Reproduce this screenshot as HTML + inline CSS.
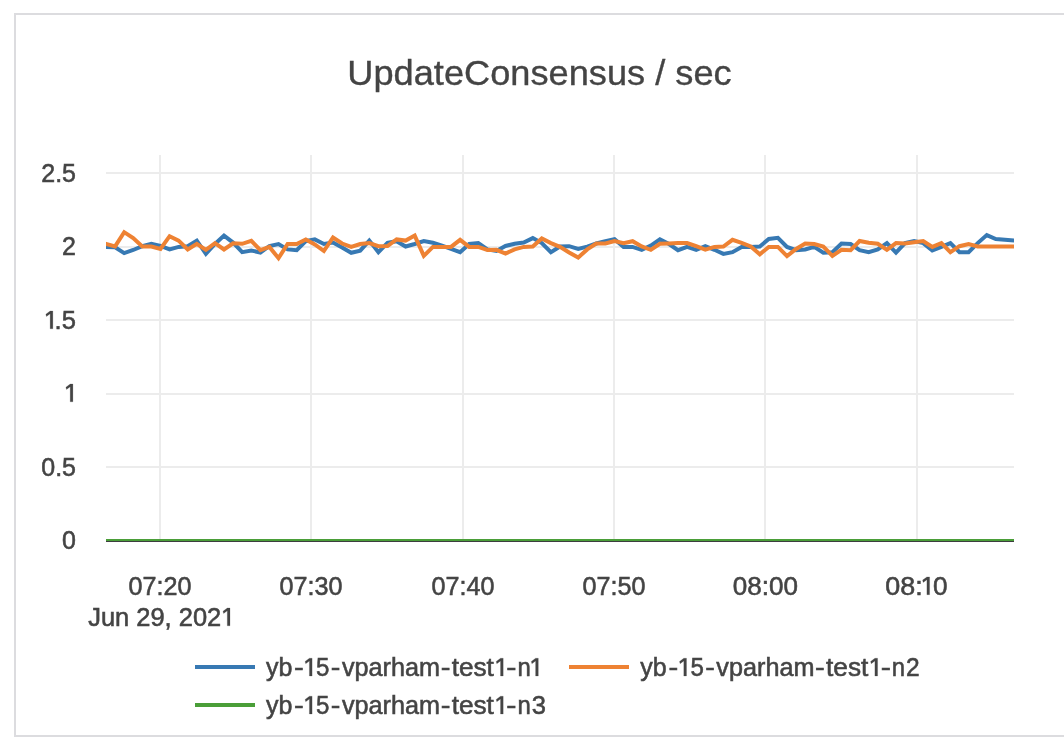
<!DOCTYPE html>
<html>
<head>
<meta charset="utf-8">
<title>UpdateConsensus / sec</title>
<style>
  html, body { margin: 0; padding: 0; background: #ffffff; }
  body { width: 1064px; height: 744px; overflow: hidden; position: relative;
         font-family: "Liberation Sans", sans-serif; }
  svg { position: absolute; left: 0; top: 0; display: block; will-change: transform; }
  text { font-family: "Liberation Sans", sans-serif; fill: #444444; }
  .tick { font-size: 25px; stroke: #444444; stroke-width: 0.55px; }
  .g1 { fill: #444444; stroke: #444444; stroke-width: 0.2px; }
  .title { font-size: 35px; stroke: #444444; stroke-width: 0.35px; }
  .grid line { stroke: #ececec; stroke-width: 2; shape-rendering: crispEdges; }
</style>
</head>
<body>
<svg width="1064" height="744" viewBox="0 0 1064 744">
  <!-- outer frame (right edge runs off-canvas) -->
  <rect x="15" y="14" width="1070" height="722" fill="#ffffff" stroke="#dcdcdf" stroke-width="2" shape-rendering="crispEdges"/>

  <!-- title -->
  <text class="title" x="347.3" y="84.8" textLength="384.4" lengthAdjust="spacingAndGlyphs">UpdateConsensus / sec</text>

  <!-- gridlines -->
  <g class="grid">
    <line x1="160" y1="155" x2="160" y2="541"/>
    <line x1="311" y1="155" x2="311" y2="541"/>
    <line x1="463" y1="155" x2="463" y2="541"/>
    <line x1="614" y1="155" x2="614" y2="541"/>
    <line x1="765" y1="155" x2="765" y2="541"/>
    <line x1="917" y1="155" x2="917" y2="541"/>
    <line x1="106" y1="173" x2="1014" y2="173"/>
    <line x1="106" y1="247" x2="1014" y2="247"/>
    <line x1="106" y1="320" x2="1014" y2="320"/>
    <line x1="106" y1="394" x2="1014" y2="394"/>
    <line x1="106" y1="467" x2="1014" y2="467"/>
  </g>
  <!-- zero line -->
  <rect x="106" y="540" width="908" height="2" fill="#3d3d3f" shape-rendering="crispEdges"/>

  <!-- y tick labels -->
  <g class="tick" text-anchor="end">
    <text x="76" y="181.8">2.5</text>
    <text x="76" y="255.4">2</text>
    <text x="76" y="475.8">0.5</text>
    <text x="76" y="548.8">0</text>
  </g>
  <g class="tick">
    <path class="g1" transform="translate(45.85,328.80)" d="M4.3,-17.8H7V0H4.3V-15L0.6,-12.3L0,-14.6Z"/><text x="54.57" y="328.8" textLength="21.31" lengthAdjust="spacingAndGlyphs">.5</text>
    <path class="g1" transform="translate(65.90,401.80)" d="M4.3,-17.8H7V0H4.3V-15L0.6,-12.3L0,-14.6Z"/>
  </g>

  <!-- x tick labels -->
  <g class="tick" text-anchor="middle">
    <text x="160" y="594.8" textLength="62.9" lengthAdjust="spacingAndGlyphs">07:20</text>
    <text x="311" y="594.8" textLength="62.9" lengthAdjust="spacingAndGlyphs">07:30</text>
    <text x="463" y="594.8" textLength="62.9" lengthAdjust="spacingAndGlyphs">07:40</text>
    <text x="614" y="594.8" textLength="62.9" lengthAdjust="spacingAndGlyphs">07:50</text>
    <text x="765.3" y="594.8" textLength="65.2" lengthAdjust="spacingAndGlyphs">08:00</text>
  </g>
  <g class="tick">
    <text x="885.22" y="594.8" textLength="37.43" lengthAdjust="spacingAndGlyphs">08:</text><path class="g1" transform="translate(922.60,594.70)" d="M4.3,-17.8H7V0H4.3V-15L0.6,-12.3L0,-14.6Z"/><text x="933.14" y="594.8" textLength="14.55" lengthAdjust="spacingAndGlyphs">0</text>
    <text x="88.16" y="626" textLength="133.08" lengthAdjust="spacingAndGlyphs">Jun 29, 202</text><path class="g1" transform="translate(223.00,625.80)" d="M4.3,-17.8H7V0H4.3V-15L0.6,-12.3L0,-14.6Z"/>
  </g>

  <!-- traces -->
  <defs><clipPath id="plotclip"><rect x="106" y="155" width="908" height="386"/></clipPath></defs>
  <g fill="none" stroke-width="4" stroke-linejoin="miter" stroke-linecap="square" clip-path="url(#plotclip)">
    <polyline id="blue" stroke="#3779b3" points="106.0,246.9 115.1,247.2 124.2,253.1 133.2,250.0 142.3,246.2 151.4,243.7 160.5,246.0 169.6,249.4 178.6,246.9 187.7,246.2 196.8,240.6 205.9,253.8 215.0,244.0 224.0,235.6 233.1,242.6 242.2,252.2 251.3,250.6 260.4,252.5 269.4,246.0 278.5,244.0 287.6,249.4 296.7,250.2 305.8,241.2 314.8,239.4 323.9,244.0 333.0,242.5 342.1,247.5 351.2,252.8 360.2,250.6 369.3,240.6 378.4,252.2 387.5,242.8 396.6,241.2 405.6,246.5 414.7,244.0 423.8,241.0 432.9,242.8 442.0,245.6 451.0,248.8 460.1,252.2 469.2,244.0 478.3,243.1 487.4,249.4 496.4,250.9 505.5,246.0 514.6,243.8 523.7,242.5 532.8,238.1 541.8,243.1 550.9,252.2 560.0,246.5 569.1,246.2 578.2,249.0 587.2,246.6 596.3,243.5 605.4,241.2 614.5,239.2 623.6,246.9 632.6,246.9 641.7,249.8 650.8,245.6 659.9,239.4 669.0,244.0 678.0,250.2 687.1,246.9 696.2,249.8 705.3,246.2 714.4,249.8 723.4,253.9 732.5,252.2 741.6,246.9 750.7,246.9 759.8,246.5 768.8,239.0 777.9,237.8 787.0,246.9 796.1,250.2 805.2,249.4 814.2,246.9 823.3,252.8 832.4,252.2 841.5,243.5 850.6,244.0 859.6,250.2 868.7,252.2 877.8,249.4 886.9,243.1 896.0,252.6 905.0,243.1 914.1,241.0 923.2,243.1 932.3,250.4 941.4,246.9 950.4,243.1 959.5,252.2 968.6,252.2 977.7,243.1 986.8,235.1 995.8,239.0 1004.9,239.8 1014.0,240.6"/>
    <polyline id="orange" stroke="#ee8233" points="106.0,243.9 115.1,246.4 124.2,232.2 133.2,238.1 142.3,246.5 151.4,246.5 160.5,249.0 169.6,236.2 178.6,240.6 187.7,249.4 196.8,243.8 205.9,249.9 215.0,243.1 224.0,249.5 233.1,243.3 242.2,243.8 251.3,240.9 260.4,250.2 269.4,246.9 278.5,258.2 287.6,244.0 296.7,244.0 305.8,239.4 314.8,244.4 323.9,251.0 333.0,237.5 342.1,243.5 351.2,246.9 360.2,244.0 369.3,243.1 378.4,246.2 387.5,246.0 396.6,239.4 405.6,240.6 414.7,235.6 423.8,255.9 432.9,246.9 442.0,246.9 451.0,246.9 460.1,239.8 469.2,246.9 478.3,246.9 487.4,250.0 496.4,249.8 505.5,253.5 514.6,249.4 523.7,246.9 532.8,246.5 541.8,238.5 550.9,243.1 560.0,246.9 569.1,252.5 578.2,257.6 587.2,249.4 596.3,243.5 605.4,243.5 614.5,241.0 623.6,243.1 632.6,241.2 641.7,246.5 650.8,249.8 659.9,243.8 669.0,243.5 678.0,243.1 687.1,243.1 696.2,246.2 705.3,249.6 714.4,246.9 723.4,246.5 732.5,239.8 741.6,242.8 750.7,246.5 759.8,254.3 768.8,246.9 777.9,246.9 787.0,256.1 796.1,249.0 805.2,243.5 814.2,244.0 823.3,246.5 832.4,255.8 841.5,249.8 850.6,250.2 859.6,241.0 868.7,242.8 877.8,243.8 886.9,249.8 896.0,243.1 905.0,243.5 914.1,242.2 923.2,241.0 932.3,246.9 941.4,243.1 950.4,252.2 959.5,246.2 968.6,244.0 977.7,246.5 986.8,246.5 995.8,246.5 1004.9,246.5 1014.0,246.5"/>
    <rect id="green" x="106" y="539" width="908" height="2" fill="#4a9e38" stroke="none" shape-rendering="crispEdges"/>
  </g>

  <!-- legend -->
  <g fill="none" stroke-width="4">
    <line x1="195" y1="667" x2="255" y2="667" stroke="#3779b3"/>
    <line x1="569" y1="667" x2="629" y2="667" stroke="#ee8233"/>
    <line x1="195" y1="705" x2="255" y2="705" stroke="#4a9e38"/>
  </g>
  <g class="tick">
    <text x="265.92" y="676.0" textLength="26.38" lengthAdjust="spacingAndGlyphs">yb</text><text x="294.04" y="676.0" textLength="9.70" lengthAdjust="spacingAndGlyphs">-</text><path class="g1" transform="translate(305.10,676.00)" d="M4.3,-17.8H7V0H4.3V-15L0.6,-12.3L0,-14.6Z"/><text x="315.98" y="676.0" textLength="13.39" lengthAdjust="spacingAndGlyphs">5</text><text x="330.85" y="676.0" textLength="9.57" lengthAdjust="spacingAndGlyphs">-</text><text x="341.92" y="676.0" textLength="98.16" lengthAdjust="spacingAndGlyphs">vparham</text><text x="440.74" y="676.0" textLength="9.70" lengthAdjust="spacingAndGlyphs">-</text><text x="451.67" y="676.0" textLength="42.22" lengthAdjust="spacingAndGlyphs">test</text><path class="g1" transform="translate(496.20,676.00)" d="M4.3,-17.8H7V0H4.3V-15L0.6,-12.3L0,-14.6Z"/><text x="506.39" y="676.0" textLength="10.19" lengthAdjust="spacingAndGlyphs">-</text><text x="517.47" y="676.0" textLength="13.29" lengthAdjust="spacingAndGlyphs">n</text><path class="g1" transform="translate(531.30,676.00)" d="M4.3,-17.8H7V0H4.3V-15L0.6,-12.3L0,-14.6Z"/>
    <text x="640.32" y="676.0" textLength="26.38" lengthAdjust="spacingAndGlyphs">yb</text><text x="668.44" y="676.0" textLength="9.70" lengthAdjust="spacingAndGlyphs">-</text><path class="g1" transform="translate(679.50,676.00)" d="M4.3,-17.8H7V0H4.3V-15L0.6,-12.3L0,-14.6Z"/><text x="690.38" y="676.0" textLength="13.39" lengthAdjust="spacingAndGlyphs">5</text><text x="705.25" y="676.0" textLength="9.57" lengthAdjust="spacingAndGlyphs">-</text><text x="716.32" y="676.0" textLength="98.16" lengthAdjust="spacingAndGlyphs">vparham</text><text x="815.14" y="676.0" textLength="9.70" lengthAdjust="spacingAndGlyphs">-</text><text x="826.07" y="676.0" textLength="42.22" lengthAdjust="spacingAndGlyphs">test</text><path class="g1" transform="translate(870.60,676.00)" d="M4.3,-17.8H7V0H4.3V-15L0.6,-12.3L0,-14.6Z"/><text x="880.79" y="676.0" textLength="10.19" lengthAdjust="spacingAndGlyphs">-</text><text x="891.87" y="676.0" textLength="13.29" lengthAdjust="spacingAndGlyphs">n</text><text x="905.94" y="676.0" textLength="13.66" lengthAdjust="spacingAndGlyphs">2</text>
    <text x="265.92" y="714.0" textLength="26.38" lengthAdjust="spacingAndGlyphs">yb</text><text x="294.04" y="714.0" textLength="9.70" lengthAdjust="spacingAndGlyphs">-</text><path class="g1" transform="translate(305.10,714.00)" d="M4.3,-17.8H7V0H4.3V-15L0.6,-12.3L0,-14.6Z"/><text x="315.98" y="714.0" textLength="13.39" lengthAdjust="spacingAndGlyphs">5</text><text x="330.85" y="714.0" textLength="9.57" lengthAdjust="spacingAndGlyphs">-</text><text x="341.92" y="714.0" textLength="98.16" lengthAdjust="spacingAndGlyphs">vparham</text><text x="440.74" y="714.0" textLength="9.70" lengthAdjust="spacingAndGlyphs">-</text><text x="451.67" y="714.0" textLength="42.22" lengthAdjust="spacingAndGlyphs">test</text><path class="g1" transform="translate(496.20,714.00)" d="M4.3,-17.8H7V0H4.3V-15L0.6,-12.3L0,-14.6Z"/><text x="506.39" y="714.0" textLength="10.19" lengthAdjust="spacingAndGlyphs">-</text><text x="517.47" y="714.0" textLength="13.29" lengthAdjust="spacingAndGlyphs">n</text><text x="531.83" y="714.0" textLength="14.21" lengthAdjust="spacingAndGlyphs">3</text>
  </g>
</svg>
</body>
</html>
